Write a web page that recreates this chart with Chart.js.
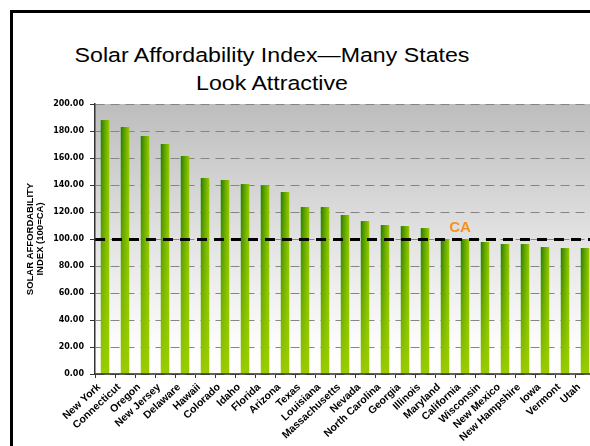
<!DOCTYPE html>
<html>
<head>
<meta charset="utf-8">
<script src="https://cdn.jsdelivr.net/npm/chart.js@4.4.1/dist/chart.umd.min.js"></script>
<style>
  html, body { margin: 0; padding: 0; width: 590px; height: 446px; overflow: hidden; background: #fff; }
  #clip { position: absolute; left: 0; top: 0; width: 590px; height: 446px; overflow: hidden; }
  #frame { position: absolute; left: 10px; top: 10px; width: 590px; height: 446px; border-left: 3px solid #000; border-top: 3px solid #000; }
  #title { position: absolute; left: 0; top: 41px; width: 544px; text-align: center; font: 20.5px "Liberation Sans", Arial, sans-serif; line-height: 28px; color: #000; transform: scaleX(1.13); transform-origin: 272px 0; }
  #wrap { position: absolute; left: 0; top: 0; width: 600px; height: 446px; }
</style>
</head>
<body>
<div id="clip">
<div id="frame"></div>
<div id="title">Solar Affordability Index—Many States<br>Look Attractive</div>
<div id="wrap"><canvas id="chart"></canvas></div>
</div>
<script>
const states = ['New York', 'Connecticut', 'Oregon', 'New Jersey', 'Delaware', 'Hawaii', 'Colorado', 'Idaho', 'Florida', 'Arizona', 'Texas', 'Louisiana', 'Massachusetts', 'Nevada', 'North Carolina', 'Georgia', 'Illinois', 'Maryland', 'California', 'Wisconsin', 'New Mexico', 'New Hampshire', 'Iowa', 'Vermont', 'Utah'];
const affordability = [188.1, 183.0, 176.3, 170.4, 161.5, 145.2, 143.7, 140.7, 139.8, 134.8, 123.7, 123.7, 117.8, 113.3, 110.4, 109.6, 108.1, 100.1, 100.0, 97.8, 96.3, 96.3, 94.1, 93.3, 93.3];
const yAxisTitle = ['SOLAR AFFORDABILITY', 'INDEX (100=CA)'];
const yMin = 0, yMax = 200, yStep = 20;
const refValue = 100;
const refLabel = 'CA';
const refState = 'California';

// per-bar fill: dark green on the left fading to yellow-green at the base
function barFill(c) {
  const chart = c.chart;
  if (c.type !== 'data' || !chart.chartArea || !chart.scales.x) return '#8fc400';
  const xs = chart.scales.x, ys = chart.scales.y;
  const w = Math.max(1, Math.round(xs.width / states.length * 0.45));
  const cx = xs.getPixelForValue(c.dataIndex);
  const top = ys.getPixelForValue(c.raw), base = ys.getPixelForValue(0);
  const h = Math.max(1, Math.round(base - top));
  const off = document.createElement('canvas'); off.width = w; off.height = h;
  const g = off.getContext('2d');
  const hg = g.createLinearGradient(0, 0, w, 0);
  hg.addColorStop(0, '#1a7a00'); hg.addColorStop(0.45, '#5ca200'); hg.addColorStop(1, '#9ccb00');
  g.fillStyle = hg; g.fillRect(0, 0, w, h);
  const vg = g.createLinearGradient(0, 0, 0, h);
  vg.addColorStop(0, 'rgba(153,204,0,0)'); vg.addColorStop(0.35, 'rgba(153,204,0,0.3)'); vg.addColorStop(1, 'rgba(153,204,0,1)');
  g.fillStyle = vg; g.fillRect(0, 0, w, h);
  const p = chart.ctx.createPattern(off, 'no-repeat');
  p.setTransform(new DOMMatrix([1, 0, 0, 1, cx - w / 2, top]));
  return p;
}

const plotBg = {
  id: 'plotBg',
  beforeDraw(chart) {
    const { ctx, chartArea: a } = chart;
    const gr = ctx.createLinearGradient(0, a.top, 0, a.bottom);
    gr.addColorStop(0, '#bdbdbd'); gr.addColorStop(0.55, '#e6e6e6'); gr.addColorStop(0.9, '#fdfdfd'); gr.addColorStop(1, '#ffffff');
    ctx.save(); ctx.fillStyle = gr; ctx.fillRect(a.left, a.top, a.right - a.left, a.bottom - a.top); ctx.restore();
  }
};

const refLine = {
  id: 'refLine',
  afterDatasetsDraw(chart) {
    const { ctx, chartArea: a, scales: { x, y } } = chart;
    const py = Math.round(y.getPixelForValue(refValue)) + 0.5;
    ctx.save();
    ctx.strokeStyle = '#000'; ctx.lineWidth = 3; ctx.setLineDash([10, 7]);
    ctx.beginPath(); ctx.moveTo(a.left, py); ctx.lineTo(a.right, py); ctx.stroke();
    ctx.setLineDash([]);
    ctx.fillStyle = '#f7901e'; ctx.font = 'bold 15px "Liberation Sans", Arial, sans-serif';
    ctx.textAlign = 'center'; ctx.textBaseline = 'middle';
    ctx.fillText(refLabel, x.getPixelForValue(states.indexOf(refState)) - 5, py - 12);
    ctx.restore();
  }
};

new Chart(document.getElementById('chart'), {
  type: 'bar',
  data: { labels: states, datasets: [{ data: affordability, backgroundColor: barFill, borderWidth: 0, categoryPercentage: 1, barPercentage: 0.45 }] },
  options: {
    responsive: true, maintainAspectRatio: false, animation: false,
    layout: { padding: { top: 104, right: 5, left: 0, bottom: 0 } },
    plugins: { legend: { display: false }, tooltip: { enabled: false } },
    scales: {
      x: {
        afterFit(s) { s.height = 72; },
        grid: { display: true, drawOnChartArea: false, drawTicks: true, tickLength: 4, tickColor: '#333', tickWidth: 1 },
        border: { display: true, color: 'rgba(40,40,40,0.75)', width: 2, z: 1 },
        ticks: { autoSkip: false, maxRotation: 43, minRotation: 43, padding: 3, labelOffset: -6, color: '#000', font: { family: 'Liberation Sans', weight: 'bold', size: 10.5 } }
      },
      y: {
        min: yMin, max: yMax,
        afterFit(s) { s.width = 95; },
        grid: { color: '#858585', lineWidth: 1, drawTicks: true, tickLength: 5, tickColor: '#333', tickBorderDash: [] },
        border: { display: true, color: '#333', width: 1.5, dash: [9, 6], z: 1 },
        ticks: { stepSize: yStep, padding: 6, color: '#000', callback: v => v.toFixed(2), font: { family: 'DejaVu Sans', weight: 'bold', size: 8 } },
        title: { display: true, text: yAxisTitle, color: '#000', padding: { top: 25, bottom: 0 }, font: { family: 'Liberation Sans', weight: 'bold', size: 9.5, lineHeight: 10 / 9.5 } }
      }
    }
  },
  plugins: [plotBg, refLine]
});
</script>
</body>
</html>
